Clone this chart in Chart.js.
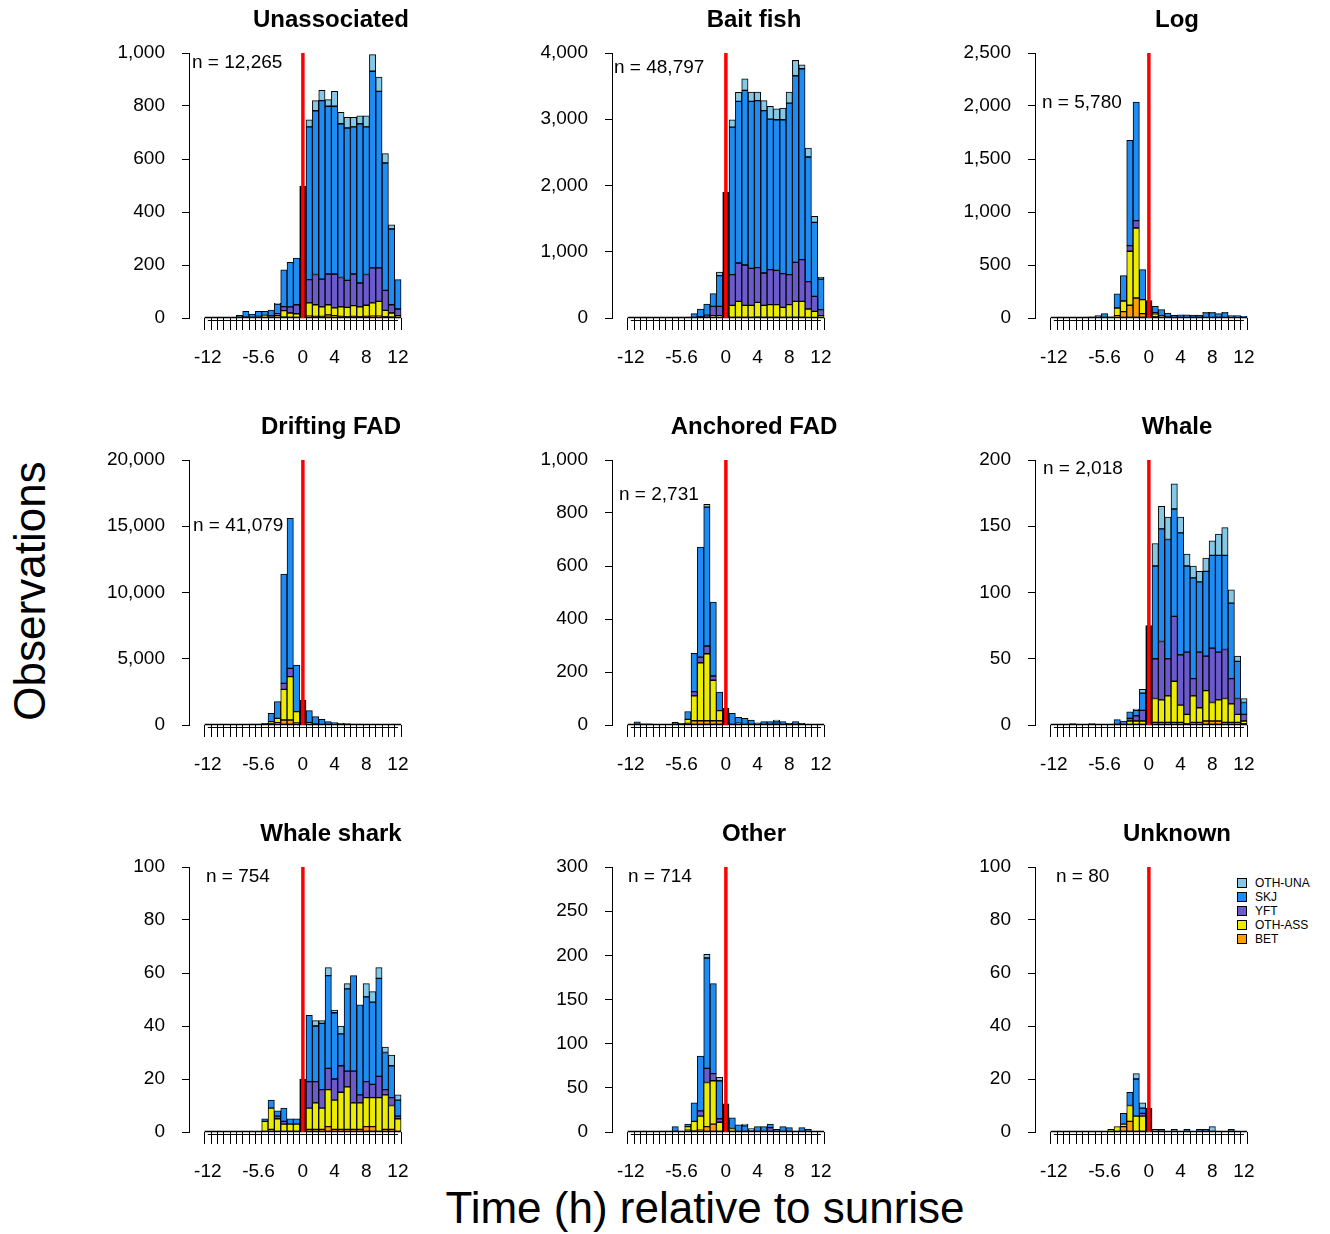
<!DOCTYPE html>
<html>
<head>
<meta charset="utf-8">
<script src="https://cdn.jsdelivr.net/npm/chart.js@4.4.1/dist/chart.umd.min.js"></script>
<style>
  body { margin: 0; background: #fff; }
  #page { position: relative; width: 1330px; height: 1234px; overflow: hidden; font-family: "Liberation Sans", Arial, sans-serif; color: #000; }
  #page canvas { position: absolute; }
  #ytitle { position: absolute; left: -170px; top: 566px; width: 400px; height: 50px; line-height: 50px; font-size: 44px; text-align: center; transform: rotate(-90deg); }
  #xtitle { position: absolute; left: 305px; top: 1183px; width: 800px; height: 50px; line-height: 50px; font-size: 44px; text-align: center; }
  #legend { position: absolute; left: 1237px; top: 876px; font-size: 12px; }
  #legend .row { height: 14px; line-height: 14px; white-space: nowrap; }
  #legend .sw { display: inline-block; width: 8px; height: 8px; border: 1px solid #000; vertical-align: -1px; margin-right: 8px; }
</style>
</head>
<body>
<div id="page">
  <div id="ytitle">Observations</div>
  <div id="xtitle">Time (h) relative to sunrise</div>
  <div id="legend"></div>
</div>
<script>
// bin centres (h relative to sunrise), 0.8 h bins
const binCenters = [-12,-11.2,-10.4,-9.6,-8.8,-8,-7.2,-6.4,-5.6,-4.8,-4,-3.2,-2.4,-1.6,-0.8,0,0.8,1.6,2.4,3.2,4,4.8,5.6,6.4,7.2,8,8.8,9.6,10.4,11.2,12];
const xTickLabels = [-12, -5.6, 0, 4, 8, 12];

const panelTitles = ["Unassociated", "Bait fish", "Log", "Drifting FAD", "Anchored FAD", "Whale", "Whale shark", "Other", "Unknown"];
const nCounts = [12265, 48797, 5780, 41079, 2731, 2018, 754, 714, 80];
const yMax = [1000, 4000, 2500, 20000, 1000, 200, 100, 300, 100];
const yStep = [200, 1000, 500, 5000, 200, 50, 20, 50, 20];

// bottom to top of each stack
const speciesNames = ["BET", "OTH-ASS", "YFT", "SKJ", "OTH-UNA"];
const speciesColors = ["#ff9f00", "#ecec00", "#6a5acd", "#1e8cf5", "#84c8e6"];

// black bar in the bin centred on sunrise
const sunriseBin = [497, 1896, 164, 1887, 63, 75, 20, 32, 9];

// Unassociated
const unassocBET    = [0,0,0,0,0, 0,0,0,0,0, 0,0,3,2,2, 0, 7,6,6,12,9, 6,5,6,5,6, 7,7,4,3,2];
const unassocOTHASS = [0,0,0,0,0, 0,3,2,4,8, 5,10,25,17,14, 0, 50,44,36,38,29, 36,35,41,37,42, 50,56,25,16,7];
const unassocYFT    = [0,0,0,0,0, 0,0,0,2,2, 3,6,15,23,34, 0, 88,114,105,116,128, 111,102,119,90,116, 132,126,75,31,25];
const unassocSKJ    = [0,2,2,2,3, 10,22,13,19,15, 22,37,139,168,176, 0, 576,618,673,633,633, 580,575,555,601,557, 742,666,481,286,111];
const unassocOTHUNA = [0,0,0,0,0, 0,0,0,0,0, 0,2,0,0,0, 0, 27,38,39,25,56, 43,40,36,30,42, 63,54,35,16,0];

// Bait fish
const baitBET    = [0,0,0,0,0, 0,0,0,0,0, 0,0,2,5,5, 0, 8,10,8,8,12, 8,8,10,8,8, 10,10,5,4,2];
const baitOTHASS = [0,0,0,0,0, 0,0,0,0,0, 3,6,14,30,30, 0, 183,242,183,183,224, 183,193,191,153,193, 242,242,131,97,33];
const baitYFT    = [0,0,0,0,0, 0,0,0,0,0, 4,10,25,141,141, 0, 463,578,609,559,524, 488,528,518,508,453, 588,628,412,226,91];
const baitSKJ    = [0,0,0,0,0, 8,8,8,8,15, 58,120,170,191,463, 0, 2228,2440,2636,2520,2520, 2450,2274,2274,2324,2590, 2817,2882,1882,1117,463];
const baitOTHUNA = [0,0,0,0,0, 0,0,0,0,0, 0,0,0,0,55, 0, 111,135,176,140,130, 151,191,166,176,166, 231,61,135,90,30];

// Log
const logBET    = [0,0,0,0,0, 0,0,0,0,0, 22,60,120,189,41, 0, 10,4,2,0,0, 0,0,0,0,0, 0,0,0,0,0];
const logOTHASS = [0,0,0,0,0, 0,0,0,0,4, 72,100,510,660,132, 0, 30,15,5,0,0, 0,0,0,0,0, 0,0,0,0,0];
const logYFT    = [0,0,0,0,0, 0,0,0,0,0, 0,0,53,69,0, 0, 10,0,0,0,0, 2,0,0,3,3, 0,3,0,0,0];
const logSKJ    = [0,0,0,3,5, 8,10,22,41,6, 135,240,994,1120,283, 0, 60,60,40,25,31, 29,28,28,47,47, 41,47,22,22,16];
const logOTHUNA = [0,0,0,0,0, 0,0,0,0,0, 0,0,0,0,0, 0, 0,0,0,0,0, 0,0,0,3,3, 0,3,0,0,0];

// Drifting FAD
const dfadBET    = [0,0,0,0,0, 0,0,0,0,0, 75,176,377,377,150, 0, 62,19,0,0,0, 0,0,0,0,0, 0,0,0,0,0];
const dfadOTHASS = [0,0,0,0,0, 0,0,0,0,25, 175,327,2315,3271,857, 0, 120,50,28,0,0, 0,0,0,0,0, 0,0,0,0,0];
const dfadYFT    = [0,0,0,0,0, 0,0,0,0,0, 0,0,453,629,0, 0, 0,0,0,0,0, 0,0,0,0,0, 0,0,0,0,0];
const dfadSKJ    = [0,0,0,0,0, 0,50,75,75,100, 630,1258,8252,11322,3522, 0, 900,560,400,252,176, 126,100,75,75,60, 60,60,60,0,0];
const dfadOTHUNA = [0,0,0,0,0, 0,0,0,0,0, 0,0,0,0,0, 0, 0,0,0,0,0, 0,0,0,0,0, 0,0,0,0,0];

// Anchored FAD
const afadBET    = [0,0,0,0,0, 0,0,0,0,6, 16,16,16,16,16, 0, 0,0,0,0,0, 0,0,0,0,0, 0,0,0,0,0];
const afadOTHASS = [0,0,0,0,0, 0,0,0,0,15, 94,219,253,153,38, 0, 0,7,0,0,0, 0,0,0,0,0, 0,0,0,0,0];
const afadYFT    = [0,0,0,0,0, 0,0,0,0,0, 16,21,29,16,0, 0, 0,0,0,0,0, 0,0,0,0,0, 0,0,0,0,0];
const afadSKJ    = [0,12,4,4,0, 0,0,10,6,30, 144,415,524,279,70, 0, 44,22,25,19,8, 13,13,12,13,6, 13,6,0,0,0];
const afadOTHUNA = [0,0,0,0,0, 0,0,0,0,0, 0,0,11,0,0, 0, 0,0,0,0,0, 0,0,7,0,0, 0,0,0,0,0];

// Whale
const whaleBET    = [0,0,0,0,0, 0,0,0,0,0, 0,0,0,0,0, 0, 2,2,2,2,2, 1,2,2,3,3, 3,2,2,2,1];
const whaleOTHASS = [0,0,0,0,0, 0,0,0,0,0, 0,0,3,3,3, 0, 18,17,20,31,13, 7,20,11,23,14, 16,18,14,6,2];
const whaleYFT    = [0,0,0,0,0, 0,0,0,0,0, 0,0,2,4,8, 0, 30,44,28,49,38, 47,13,42,26,41, 36,37,19,12,5];
const whaleSKJ    = [0,0,0,1,0, 0,1,0,0,0, 4,3,5,4,13, 0, 70,85,90,81,92, 65,76,53,64,70, 73,71,57,28,9];
const whaleOTHUNA = [0,0,0,0,0, 0,0,0,0,0, 0,0,0,1,3, 0, 17,17,17,19,12, 9,9,8,10,11, 16,21,10,4,3];

// Whale shark
const sharkBET    = [0,0,0,0,0, 0,0,0,0,0, 1,0,0,0,0, 0, 1,1,1,2,1, 1,1,1,1,2, 2,0,1,1,0];
const sharkOTHASS = [0,0,0,0,0, 0,0,0,0,4, 8,5,3,3,3, 0, 8,10,8,14,11, 14,16,10,10,11, 11,13,13,9,5];
const sharkYFT    = [0,0,0,0,0, 0,0,0,0,0, 0,1,1,0,0, 0, 10,8,7,8,8, 10,6,12,3,6, 5,8,2,3,1];
const sharkSKJ    = [0,0,0,0,0, 0,0,0,0,1, 3,2,5,2,2, 0, 25,21,25,35,25, 12,31,36,34,32, 31,37,14,12,6];
const sharkOTHUNA = [0,0,0,0,0, 0,0,0,0,0, 0,0,0,0,0, 0, 0,2,1,3,1, 3,2,0,0,5, 4,4,2,4,2];

// Other
const otherBET    = [0,0,0,0,0, 0,0,0,0,2, 1,2,6,9,0, 0, 0,0,0,0,0, 0,0,0,0,0, 0,0,0,0,0];
const otherOTHASS = [0,0,0,0,0, 0,0,0,0,4, 11,16,50,49,11, 0, 4,0,0,0,0, 0,0,0,0,0, 0,0,0,0,0];
const otherYFT    = [0,0,0,0,0, 0,0,0,0,0, 0,6,16,8,4, 0, 0,0,0,0,0, 0,5,0,0,0, 0,0,0,0,0];
const otherSKJ    = [0,0,1,0,0, 1,1,6,1,3, 21,62,125,102,43, 0, 12,8,7,2,6, 6,4,3,6,5, 1,5,3,0,0];
const otherOTHUNA = [0,0,0,0,0, 0,0,0,0,0, 0,0,4,0,4, 0, 0,0,2,2,0, 0,0,0,0,0, 0,0,0,0,0];

// Unknown
const unkBET    = [0,0,0,0,0, 0,0,0,0,0, 0,2,4,0,0, 0, 0,0,0,0,0, 0,0,0,0,0, 0,0,0,0,0];
const unkOTHASS = [0,0,0,0,0, 0,0,0,0,1, 2,1,6,6,6, 0, 0,0,0,0,0, 0,0,0,0,0, 0,0,0,0,0];
const unkYFT    = [0,0,0,0,0, 0,0,0,0,0, 0,0,0,0,1, 0, 0,1,0,0,0, 0,0,0,0,0, 0,0,0,0,0];
const unkSKJ    = [0,0,0,0,0, 0,0,0,0,0, 0,4,5,14,2, 0, 0,0,0,0,0, 1,0,1,1,0, 0,0,1,0,0];
const unkOTHUNA = [0,0,0,0,0, 0,0,0,0,0, 0,0,0,2,2, 0, 1,0,0,1,0, 0,0,0,0,2, 0,0,0,0,0];

const panelSeries = [
  [unassocBET, unassocOTHASS, unassocYFT, unassocSKJ, unassocOTHUNA],
  [baitBET, baitOTHASS, baitYFT, baitSKJ, baitOTHUNA],
  [logBET, logOTHASS, logYFT, logSKJ, logOTHUNA],
  [dfadBET, dfadOTHASS, dfadYFT, dfadSKJ, dfadOTHUNA],
  [afadBET, afadOTHASS, afadYFT, afadSKJ, afadOTHUNA],
  [whaleBET, whaleOTHASS, whaleYFT, whaleSKJ, whaleOTHUNA],
  [sharkBET, sharkOTHASS, sharkYFT, sharkSKJ, sharkOTHUNA],
  [otherBET, otherOTHASS, otherYFT, otherSKJ, otherOTHUNA],
  [unkBET, unkOTHASS, unkYFT, unkSKJ, unkOTHUNA]
];

// layout of the plot regions on the page
const colLeft = [189, 612, 1035];
const rowTop = [53, 460, 867];
const plotW = 284, plotH = 265;
const padL = 110, padT = 46, padR = 20, padB = 55;
// where the "n = " text sits inside each plot region
const nOffset = [[3, 10], [2, 15], [7, 50], [4, 66], [7, 35], [8, 9], [17, 10], [16, 10], [21, 10]];

const FONT = '"Liberation Sans", Arial, sans-serif';
Chart.defaults.font.family = FONT;
Chart.defaults.color = "#000";

const sunriseMarks = {
  id: "sunriseMarks",
  afterDatasetsDraw(chart, args, opts) {
    const { ctx, chartArea: a } = chart;
    const x = chart.scales.x;
    ctx.save();
    ctx.strokeStyle = "#000";
    ctx.lineWidth = 1.5;
    ctx.beginPath();
    ctx.moveTo(x.getPixelForValue(-12.4), a.bottom - 0.5);
    ctx.lineTo(x.getPixelForValue(12.4), a.bottom - 0.5);
    ctx.stroke();
    ctx.lineWidth = 1;
    ctx.beginPath();
    ctx.moveTo(x.getPixelForValue(-12), a.bottom + 2.5);
    ctx.lineTo(x.getPixelForValue(12), a.bottom + 2.5);
    ctx.stroke();
    // sunrise line
    const x0 = x.getPixelForValue(0);
    ctx.strokeStyle = "#ff0000";
    ctx.lineWidth = 3.5;
    ctx.beginPath();
    ctx.moveTo(x0, a.top);
    ctx.lineTo(x0, a.bottom);
    ctx.stroke();
    ctx.fillStyle = "#000";
    ctx.font = "19px " + FONT;
    ctx.textBaseline = "middle";
    ctx.fillText("n = " + opts.n.toLocaleString("en-US"), a.left + opts.dx, a.top + opts.dy);
    ctx.restore();
  }
};

const page = document.getElementById("page");

panelTitles.forEach((title, i) => {
  const r = Math.floor(i / 3), c = i % 3;
  const cv = document.createElement("canvas");
  cv.width = padL + plotW + padR;
  cv.height = padT + plotH + padB;
  cv.style.left = (colLeft[c] - padL) + "px";
  cv.style.top = (rowTop[r] - padT) + "px";
  page.appendChild(cv);

  const datasets = panelSeries[i].map((vals, s) => ({
    label: speciesNames[s],
    data: vals,
    backgroundColor: speciesColors[s],
    borderColor: "#000",
    borderWidth: 1,
    borderSkipped: false
  }));
  datasets.push({
    label: "sunrise bin",
    data: binCenters.map(v => (v === 0 ? sunriseBin[i] : 0)),
    backgroundColor: "#000",
    borderColor: "#000",
    borderWidth: 1,
    borderSkipped: false
  });

  new Chart(cv, {
    type: "bar",
    data: { labels: binCenters, datasets: datasets },
    plugins: [sunriseMarks],
    options: {
      responsive: false,
      animation: false,
      layout: { padding: { right: padR } },
      datasets: { bar: { barPercentage: 1, categoryPercentage: 1 } },
      plugins: {
        legend: { display: false },
        tooltip: { enabled: false },
        title: {
          display: true,
          text: title,
          fullSize: false,
          color: "#000",
          font: { size: 24, weight: "bold", lineHeight: 1 },
          padding: { top: 1, bottom: padT - 25 }
        },
        sunriseMarks: { n: nCounts[i], dx: nOffset[i][0], dy: nOffset[i][1] }
      },
      scales: {
        x: {
          type: "linear",
          stacked: true,
          min: -13.8,
          max: 20.9,
          afterBuildTicks: s => { s.ticks = binCenters.map(v => ({ value: v })); },
          afterFit: s => { s.height = padB; },
          ticks: {
            autoSkip: false,
            maxRotation: 0,
            padding: 16,
            color: "#000",
            font: { size: 19 },
            callback: v => (xTickLabels.includes(v) ? String(v) : "")
          },
          grid: { drawOnChartArea: false, drawTicks: true, tickLength: 12, color: "#000", lineWidth: 1 },
          border: { display: false }
        },
        y: {
          stacked: true,
          min: 0,
          max: yMax[i],
          afterFit: s => { s.width = padL; },
          ticks: {
            stepSize: yStep[i],
            padding: 17,
            color: "#000",
            font: { size: 19 },
            callback: v => v.toLocaleString("en-US")
          },
          grid: { drawOnChartArea: false, drawTicks: true, tickLength: 7, color: "#000", lineWidth: 1 },
          border: { display: true, color: "#000", width: 1 }
        }
      }
    }
  });
});

// legend, top row = top of the stack
const legendDiv = document.getElementById("legend");
for (let s = speciesNames.length - 1; s >= 0; s--) {
  legendDiv.innerHTML += `<div class="row"><span class="sw" style="background:${speciesColors[s]}"></span>${speciesNames[s]}</div>`;
}
</script>
</body>
</html>
